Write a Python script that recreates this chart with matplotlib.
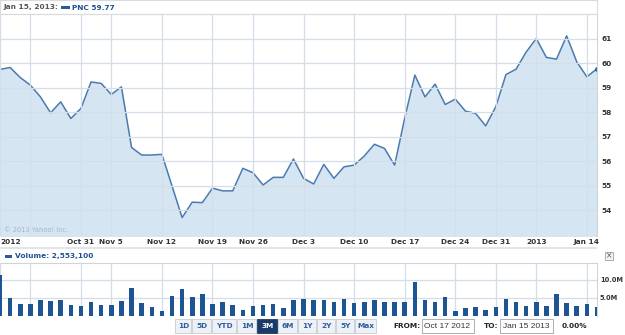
import numpy as np
import matplotlib.pyplot as plt
from matplotlib.patches import Rectangle

W, H = 625, 335

# daily closes, trading days Oct 17 2012 .. Jan 15 2013
price = [59.74, 59.82, 59.41, 59.10, 58.62, 57.97, 58.42, 57.74, 58.15, 59.23,
         59.17, 58.72, 59.03, 56.56, 56.25, 56.25, 56.28, 54.99, 53.70, 54.33,
         54.31, 54.90, 54.79, 54.79, 55.71, 55.53, 55.03, 55.34, 55.34, 56.09,
         55.30, 55.07, 55.87, 55.30, 55.77, 55.84, 56.21, 56.69, 56.52, 55.84,
         57.76, 59.51, 58.62, 59.14, 58.31, 58.53, 58.04, 57.95, 57.44, 58.22,
         59.53, 59.75, 60.45, 61.00, 60.23, 60.16, 61.11, 60.05, 59.44, 59.77]
# volume in millions
volume = [11.4, 4.9, 3.25, 3.25, 4.35, 4.1, 4.55, 2.95, 2.8, 3.9,
          2.95, 2.95, 4.1, 7.9, 3.7, 2.6, 1.5, 5.65, 7.4, 5.2,
          6.1, 3.25, 3.9, 2.95, 1.65, 2.8, 2.95, 3.25, 2.3, 4.35,
          4.6, 4.35, 4.35, 3.9, 4.6, 3.5, 3.8, 4.35, 3.9, 3.8,
          4.0, 9.35, 4.35, 3.8, 5.4, 1.4, 2.1, 2.6, 1.65, 2.6,
          4.6, 3.9, 2.8, 3.9, 2.8, 6.1, 3.5, 2.8, 3.25, 2.5531]
idx = np.arange(len(price))

tick_pos = [0, 3, 8, 11, 16, 21, 25, 30, 35, 40, 45, 49, 53, 58]
tick_lab = ['2012', '', 'Oct 31', 'Nov 5', 'Nov 12', 'Nov 19', 'Nov 26',
            'Dec 3', 'Dec 10', 'Dec 17', 'Dec 24', 'Dec 31', '2013', 'Jan 14']
price_ticks = [54, 55, 56, 57, 58, 59, 60, 61]
vol_ticks = [5, 10]
vol_labels = ['5.0M', '10.0M']
ranges = ['1D', '5D', 'YTD', '1M', '3M', '6M', '1Y', '2Y', '5Y', 'Max']
selected = '3M'
date_label = 'Jan 15, 2013:'
symbol = 'PNC'
from_date = 'Oct 17 2012'
to_date = 'Jan 15 2013'
change = '0.00%'

blue_line = '#4a7ab0'
fill_c = '#d5e5f1'
grid_c = '#d5dee8'
bar_c = '#1d5592'
txt_c = '#333333'
hdr_blue = '#1f5190'

plt.rcParams['font.family'] = 'DejaVu Sans'
fig = plt.figure(figsize=(W / 100, H / 100), dpi=100)


def rect(x0, y0, x1, y1):
    return [x0 / W, 1 - y1 / H, (x1 - x0) / W, (y1 - y0) / H]


def box(x0, y0, x1, y1, **kw):
    fig.add_artist(Rectangle((x0 / W, 1 - y1 / H), (x1 - x0) / W, (y1 - y0) / H,
                             transform=fig.transFigure, **kw))


def ftext(x, y, s, **kw):
    fig.text(x / W, 1 - y / H, s, **kw)


# ---- price panel
ax = fig.add_axes(rect(0, 14, 597, 236))
ax.fill_between(idx, price, 52.9, color=fill_c, lw=0)
ax.plot(idx, price, color=blue_line, lw=1.1)
ax.plot(idx[-1], price[-1], 'o', color='#2a5d99', ms=2.5)
ax.set_xlim(0, len(price) - 1)
ax.set_ylim(52.95, 62)
ax.set_xticks(tick_pos, tick_lab)
ax.set_yticks(price_ticks)
ax.yaxis.tick_right()
ax.tick_params(length=0, labelsize=5.3, labelcolor=txt_c, pad=2.5)
ax.tick_params(axis='y', pad=3)
for t in ax.get_xticklabels() + ax.get_yticklabels():
    t.set_fontweight('bold')
ax.get_xticklabels()[0].set_ha('left')
ax.grid(True, color=grid_c, lw=0.9)
ax.set_axisbelow(False)
for s in ['left', 'bottom']:
    ax.spines[s].set_visible(False)
for s in ['top', 'right']:
    ax.spines[s].set_color('#cfd5dc')
    ax.spines[s].set_linewidth(0.8)
ax.text(0.006, 0.015, '\u00a9 2013 Yahoo! Inc.', transform=ax.transAxes,
        fontsize=4.8, color='#a9b6c4', va='bottom')

# header
box(0, 0.5, 597, 14, fill=False, ec='#d8dce1', lw=0.8)
ftext(3, 7.5, date_label, fontsize=5.3, fontweight='bold', color='#555555', va='center')
box(61, 6, 70, 9, color='#2a5b94', lw=0)
ftext(72, 7.5, f'{symbol} {price[-1]:.2f}', fontsize=5.3, fontweight='bold',
      color=hdr_blue, va='center')

# separator
box(0, 247.3, 597, 249.3, color='#e1e4e8', lw=0)

# ---- volume panel
vax = fig.add_axes(rect(0, 262.7, 597, 316))
vax.bar(idx, volume, width=0.45, color=bar_c, zorder=3)
vax.set_xlim(0, len(price) - 1)
vax.set_ylim(0, 14.8)
vax.set_xticks(tick_pos, [''] * len(tick_pos))
vax.set_yticks(vol_ticks, vol_labels)
vax.yaxis.tick_right()
vax.tick_params(length=0, labelsize=4.8, labelcolor=txt_c, pad=2)
for t in vax.get_yticklabels():
    t.set_fontweight('bold')
vax.grid(True, color=grid_c, lw=0.9, zorder=0)
for s in ['left', 'bottom']:
    vax.spines[s].set_visible(False)
for s in ['top', 'right']:
    vax.spines[s].set_color('#cfd5dc')
    vax.spines[s].set_linewidth(0.8)

box(5, 254.5, 12, 257.5, color='#2a5b94', lw=0)
ftext(15, 256, f'Volume: {int(round(volume[-1] * 1e6)):,}', fontsize=5.3,
      fontweight='bold', color=hdr_blue, va='center')
box(605, 252, 613, 260, fc='#f2f3f5', ec='#9aa3ad', lw=0.6)
ftext(609, 256, '\u00d7', fontsize=5.5, color='#555555', ha='center', va='center')

# ---- range buttons
edges = [175, 192, 212, 237, 257, 278, 298, 317, 336, 355, 377]
for i, lab in enumerate(ranges):
    x0, x1 = edges[i], edges[i + 1]
    on = lab == selected
    box(x0, 319, x1 - 0.8, 333, fc='#1a3b68' if on else '#eef1f5',
        ec='#1a3b68' if on else '#c5ccd5', lw=0.6)
    ftext((x0 + x1) / 2, 326.3, lab, fontsize=5.3, fontweight='bold',
          color='white' if on else '#2e5f9c', ha='center', va='center')

ftext(393, 326.3, 'FROM:', fontsize=5.3, fontweight='bold', color='#222222', va='center')
box(421.7, 319, 474.3, 333, fc='white', ec='#9ba3ad', lw=0.6)
ftext(424, 326.3, from_date, fontsize=6, family='Liberation Sans', color='#333333', va='center')
ftext(484, 326.3, 'TO:', fontsize=5.3, fontweight='bold', color='#222222', va='center')
box(500, 319, 553, 333, fc='white', ec='#9ba3ad', lw=0.6)
ftext(502.5, 326.3, to_date, fontsize=6, family='Liberation Sans', color='#333333', va='center')
ftext(562, 326.3, change, fontsize=5.3, fontweight='bold', color='#222222', va='center')

fig.savefig('out.png', dpi=100)
